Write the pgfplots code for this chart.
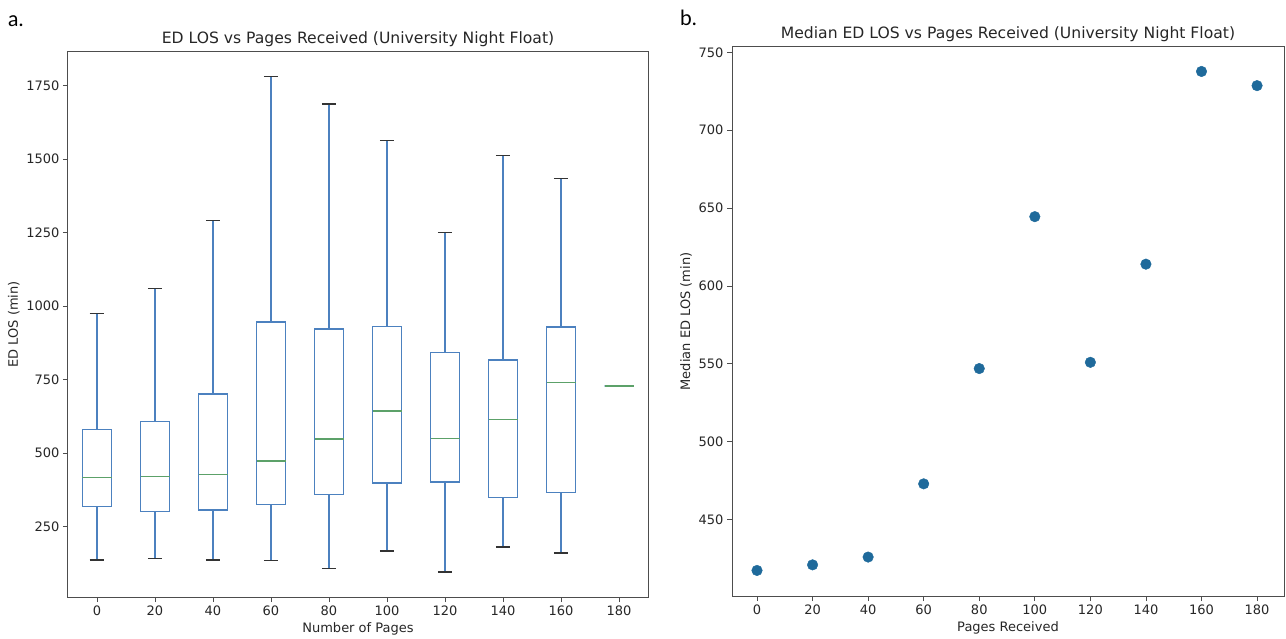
\documentclass[border=0pt]{standalone}
\usepackage{fontspec}
\setmainfont{DejaVu Sans}
\newfontfamily\panelfont{Lato}
\usepackage{pgfplots}
\pgfplotsset{compat=1.18}
\usepgfplotslibrary{statistics}

\definecolor{boxblue}{HTML}{4C81BF}
\definecolor{medgreen}{HTML}{5CA169}
\definecolor{capgray}{HTML}{333333}
\definecolor{dotblue}{HTML}{1F6A9B}
\definecolor{framegray}{HTML}{4D4D4D}

\pgfplotsset{
  mplstyle/.style={
    scale only axis,
    axis line style={framegray, line width=1pt},
    tick style={framegray, line width=0.8pt},
    tick align=outside,
    major tick length=5pt,
    tick pos=left,
    ticklabel style={font=\fontsize{13}{15}\selectfont, text=black!85},
    label style={font=\fontsize{13}{15}\selectfont, text=black!85},
    title style={font=\fontsize{15.6}{18}\selectfont, text=black!85, yshift=-4pt},
    /pgf/number format/assume math mode=true,
    /pgf/number format/1000 sep={},
    xtick={0,20,...,180},
  },
  boxplot/draw/box/.code={
    \draw[boxblue, line width=1.3pt]
      (boxplot box cs:\pgfplotsboxplotvalue{lower quartile},0) rectangle
      (boxplot box cs:\pgfplotsboxplotvalue{upper quartile},1);
  },
  boxplot/draw/median/.code={
    \draw[medgreen, line width=1.3pt]
      (boxplot box cs:\pgfplotsboxplotvalue{median},0) --
      (boxplot box cs:\pgfplotsboxplotvalue{median},1);
  },
  boxplot/draw/lower whisker/.code={
    \draw[boxblue, line width=1.3pt]
      (boxplot box cs:\pgfplotsboxplotvalue{lower whisker},0.5) --
      (boxplot box cs:\pgfplotsboxplotvalue{lower quartile},0.5);
    \draw[capgray, line width=1.3pt]
      (boxplot whisker cs:\pgfplotsboxplotvalue{lower whisker},0) --
      (boxplot whisker cs:\pgfplotsboxplotvalue{lower whisker},1);
  },
  boxplot/draw/upper whisker/.code={
    \draw[boxblue, line width=1.3pt]
      (boxplot box cs:\pgfplotsboxplotvalue{upper whisker},0.5) --
      (boxplot box cs:\pgfplotsboxplotvalue{upper quartile},0.5);
    \draw[capgray, line width=1.3pt]
      (boxplot whisker cs:\pgfplotsboxplotvalue{upper whisker},0) --
      (boxplot whisker cs:\pgfplotsboxplotvalue{upper whisker},1);
  },
}

% lw = lower whisker, lq = lower quartile, med, uq, uw
\newcommand{\bx}[6]{%
  \addplot[draw=boxblue,
    boxplot prepared={draw position=#1, lower whisker=#2,
    lower quartile=#3, median=#4, upper quartile=#5, upper whisker=#6,
    box extend=10, whisker extend=5}] coordinates {};
}

\begin{document}
\begin{tikzpicture}
\useasboundingbox (0,0) rectangle (1286pt,638pt);

\begin{axis}[
    mplstyle,
    boxplot/draw direction=y,
    at={(68pt,41pt)}, anchor=south west,
    width=580pt, height=545pt,
    xmin=-10, xmax=190,
    ymin=10, ymax=1864,
    ytick={250,500,...,1750},
    title={ED LOS vs Pages Received (University Night Float)},
    xlabel={Number of Pages},
    ylabel={ED LOS (min)},
  ]
  \bx{0}{136}{318}{417}{581}{974}
  \bx{20}{142}{300}{420}{606}{1060}
  \bx{40}{136}{306}{426}{701}{1290}
  \bx{60}{133}{325}{473}{945}{1781}
  \bx{80}{108}{358}{548}{922}{1687}
  \bx{100}{167}{398}{643}{930}{1564}
  \bx{120}{95}{401}{550}{841}{1251}
  \bx{140}{180}{349}{615}{816}{1512}
  \bx{160}{160}{365}{740}{928}{1434}
  \bx{180}{728}{728}{728}{728}{728}
\end{axis}

\begin{axis}[
    mplstyle,
    at={(732pt,42pt)}, anchor=south west,
    width=552pt, height=549pt,
    xmin=-9, xmax=189.7,
    ymin=401, ymax=753.4,
    ytick={450,500,...,750},
    title={Median ED LOS vs Pages Received (University Night Float)},
    xlabel={Pages Received},
    ylabel={Median ED LOS (min)},
  ]
  \addplot[only marks, mark=*, mark size=5.3pt,
    mark options={draw=dotblue, fill=dotblue}] coordinates {
    (0,417.4) (20,421) (40,426) (60,473) (80,547)
    (100,644.5) (120,551) (140,614) (160,737.7) (180,728.6)
  };
\end{axis}

\node[anchor=north west, inner sep=0pt, font=\panelfont\fontsize{21}{23}\selectfont]
  at (8pt,623pt) {a.};
\node[anchor=north west, inner sep=0pt, font=\panelfont\fontsize{21}{23}\selectfont]
  at (680pt,628pt) {b.};
\end{tikzpicture}
\end{document}
